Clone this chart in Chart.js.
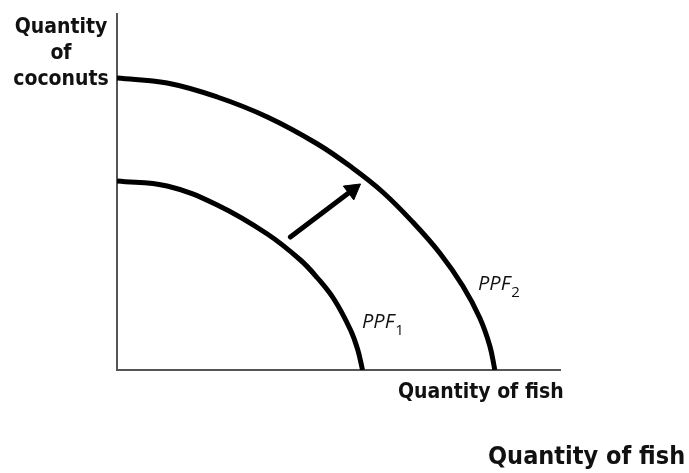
<!DOCTYPE html>
<html>
<head>
<meta charset="utf-8">
<script src="https://cdn.jsdelivr.net/npm/chart.js@4"></script>
<style>
  html, body { margin: 0; padding: 0; background: #fff; }
  #wrap { position: relative; width: 689px; height: 473px; overflow: hidden; }
  canvas { position: absolute; left: 0; top: 0; }
  .lbl { position: absolute; font-family: "DejaVu Sans Condensed", "DejaVu Sans", sans-serif; font-weight: bold; color: #111; white-space: nowrap; }
  .ppf { position: absolute; font-family: "Open Sans", sans-serif; font-style: italic; font-size: 20px; color: #111; white-space: nowrap; }
  .ppf sub { font-size: 15px; font-style: normal; vertical-align: -7px; margin-left: 1px; }
</style>
</head>
<body>
<div id="wrap">
  <canvas id="ppfChart" width="689" height="473"></canvas>
  <div class="lbl" style="left:6px; top:13px; width:110px; text-align:center; font-size:21px; line-height:26px;">Quantity<br>of<br>coconuts</div>
  <div class="lbl" style="left:398px; top:379px; font-size:21px;">Quantity of fish</div>
  <div class="lbl" style="left:488px; top:441px; font-size:25px;">Quantity of fish</div>
  <div class="ppf" style="left:362px; top:307px;">PPF<sub>1</sub></div>
  <div class="ppf" style="left:478px; top:269px;">PPF<sub>2</sub></div>
</div>
<script>
// --- Data (units: fish on x, coconuts on y) ---
const xMax = 442;
const yMax = 356;

const ppf1X = [0, 50, 100, 150, 183, 200, 217, 233, 240, 245];
const ppf1Y = [189, 184, 165, 136, 110, 92, 70, 40, 21, 0];

const ppf2X = [0, 50, 100, 150, 200, 235, 265, 295, 322, 345, 362, 372, 377];
const ppf2Y = [292, 287, 273, 253, 226, 202, 178, 148, 117, 84, 52, 24, 0];

const arrowX = [173, 235];
const arrowY = [133, 180];

const toPoints = (xs, ys) => xs.map((x, i) => ({ x: x, y: ys[i] }));

// --- Chart ---
const ctx = document.getElementById('ppfChart').getContext('2d');

new Chart(ctx, {
    type: 'line',
    data: {
        datasets: [
            {
                label: 'PPF1',
                data: toPoints(ppf1X, ppf1Y),
                borderColor: '#000',
                borderWidth: 5,
                pointRadius: 0,
                tension: 0.4
            },
            {
                label: 'PPF2',
                data: toPoints(ppf2X, ppf2Y),
                borderColor: '#000',
                borderWidth: 5,
                pointRadius: 0,
                tension: 0.4
            },
            {
                label: 'shift',
                data: toPoints(arrowX, arrowY),
                borderColor: '#000',
                backgroundColor: '#000',
                borderWidth: 5,
                borderCapStyle: 'round',
                pointStyle: 'triangle',
                pointRadius: [0, 10],
                pointRotation: 53,
                pointBorderWidth: 1,
                tension: 0
            }
        ]
    },
    options: {
        responsive: false,
        animation: false,
        layout: { padding: { left: 117, top: 14, right: 129, bottom: 103 } },
        plugins: {
            legend: { display: false },
            tooltip: { enabled: false }
        },
        scales: {
            x: {
                type: 'linear',
                min: 0,
                max: xMax,
                ticks: { display: false },
                grid: { display: false, drawTicks: false },
                border: { color: '#555', width: 2 }
            },
            y: {
                type: 'linear',
                min: 0,
                max: yMax,
                ticks: { display: false },
                grid: { display: false, drawTicks: false },
                border: { color: '#555', width: 2 }
            }
        }
    }
});
</script>
</body>
</html>
